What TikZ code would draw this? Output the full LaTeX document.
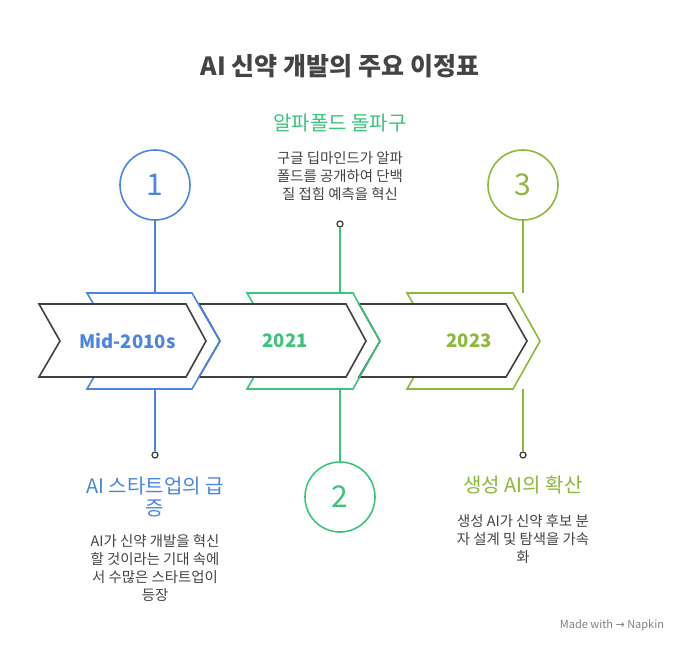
\documentclass[tikz,border=0pt]{standalone}
\usepackage{fontspec}
\setmainfont{Noto Sans CJK KR}
\newfontfamily\djv{DejaVu Sans}
\definecolor{cb}{HTML}{4A86E0}
\definecolor{cg}{HTML}{3CC47C}
\definecolor{cl}{HTML}{8DB83A}
\definecolor{dk}{HTML}{404040}
\definecolor{tx}{HTML}{444444}
\begin{document}
\begin{tikzpicture}[x=1pt,y=-1pt,
  darkchev/.style={draw=dk,line width=1.6pt,fill=white,line join=miter},
  colchev/.style={line width=1.6pt,line join=miter},
  conn/.style={line width=1.6pt},
  numc/.style={circle,draw=#1,line width=1.6pt,minimum size=70pt,inner sep=0pt,text=#1,font=\fontsize{30}{30}\selectfont},
  dot/.style={circle,draw=dk,fill=white,line width=1.3pt,minimum size=6pt,inner sep=0pt},
  head/.style={text=#1,font=\fontsize{20}{22}\selectfont,align=center},
  body/.style={text=tx,font=\fontsize{14.4}{18}\selectfont,align=center},
  yr/.style={text=#1,font=\bfseries\fontsize{18.5}{18}\selectfont,anchor=west}]
\useasboundingbox[fill=white] (0,0) rectangle (679,653);
\node[text=tx,font=\bfseries\fontsize{25}{28}\selectfont] (title) at (340,66) {AI 신약 개발의 주요 이정표};
% chevrons, back to front
\draw[colchev,draw=cl] (407,293) -- (513,293) -- (540,341) -- (513,389) -- (407,389) -- (435,341) -- cycle;
\draw[darkchev] (359,304) -- (506,304) -- (527,341) -- (506,377) -- (359,377) -- (380,341) -- cycle;
\draw[colchev,draw=cg] (247,293) -- (353,293) -- (380,341) -- (353,389) -- (247,389) -- (275,341) -- cycle;
\draw[darkchev] (199,304) -- (346,304) -- (366,341) -- (346,377) -- (199,377) -- (220,341) -- cycle;
\draw[colchev,draw=cb] (87,293) -- (192,293) -- (220,341) -- (192,389) -- (87,389) -- (115,341) -- cycle;
\draw[darkchev] (39,304) -- (186,304) -- (206,341) -- (186,377) -- (39,377) -- (60,341) -- cycle;
\node[yr=cb] (y1) at (76,341) {Mid-2010s};
\node[yr=cg] (y2) at (259,341) {2021};
\node[yr=cl] (y3) at (443,341) {2023};
% circles and connectors
\node[numc=cb] (c1) at (155,185) {1};
\node[numc=cg] (c2) at (340,497) {2};
\node[numc=cl] (c3) at (523,185) {3};
\coordinate (t1) at (155,293); \coordinate (b1) at (155,389);
\coordinate (t2) at (340,293); \coordinate (b2) at (340,389);
\coordinate (t3) at (523,293); \coordinate (b3) at (523,389);
\draw[conn,draw=cb] (c1) -- (t1);
\draw[conn,draw=cg] (b2) -- (c2);
\draw[conn,draw=cl] (c3) -- (t3);
\node[dot] (d1) at (155,455) {};
\node[dot] (d2) at (340,224) {};
\node[dot] (d3) at (523,455) {};
\draw[conn,draw=cb] (b1) -- (d1);
\draw[conn,draw=cg] (d2) -- (t2);
\draw[conn,draw=cl] (b3) -- (d3);
% texts
\node[head=cb,anchor=north] (h1) at (155,473) {AI 스타트업의 급\\증};
\node[body,anchor=north] (p1) at (155,531) {AI가 신약 개발을 혁신\\할 것이라는 기대 속에\\서 수많은 스타트업이\\등장};
\node[head=cg] (h2) at (340,123) {알파폴드 돌파구};
\node[body,anchor=north] (p2) at (340,148) {구글 딥마인드가 알파\\폴드를 공개하여 단백\\질 접힘 예측을 혁신};
\node[head=cl] (h3) at (523,485) {생성 AI의 확산};
\node[body,anchor=north] (p3) at (523,511) {생성 AI가 신약 후보 분\\자 설계 및 탐색을 가속\\화};
\node[text=gray,font=\fontsize{11}{11}\selectfont] (mw) at (612,625) {Made with {\djv →} Napkin};
\end{tikzpicture}
\end{document}
